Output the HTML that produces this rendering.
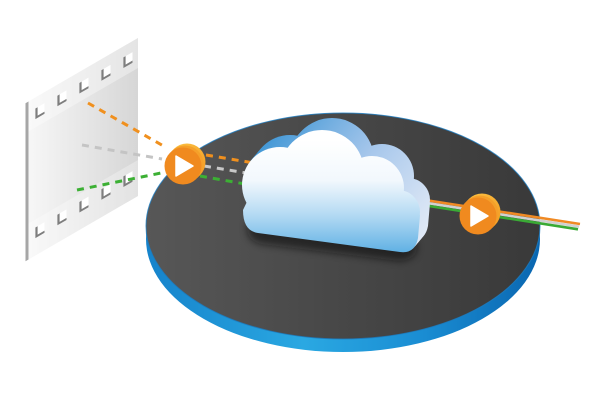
<!DOCTYPE html>
<html><head><meta charset="utf-8"><style>html,body{margin:0;padding:0;background:#fff;}svg{display:block;}</style></head>
<body>
<svg width="612" height="408" viewBox="0 0 612 408" xmlns="http://www.w3.org/2000/svg">
<defs>
  <linearGradient id="panelG" x1="28" y1="0" x2="138" y2="0" gradientUnits="userSpaceOnUse">
    <stop offset="0" stop-color="#f7f7f7"/><stop offset="1" stop-color="#d6d6d6"/>
  </linearGradient>
  <linearGradient id="rimG" x1="146" y1="0" x2="540" y2="0" gradientUnits="userSpaceOnUse">
    <stop offset="0" stop-color="#1683cb"/><stop offset="0.4" stop-color="#2aa8e2"/>
    <stop offset="0.7" stop-color="#1a8dd3"/><stop offset="1" stop-color="#0a66b0"/>
  </linearGradient>
  <linearGradient id="topG" x1="146" y1="0" x2="540" y2="0" gradientUnits="userSpaceOnUse">
    <stop offset="0" stop-color="#575757"/><stop offset="0.5" stop-color="#474747"/><stop offset="1" stop-color="#393939"/>
  </linearGradient>
  <linearGradient id="frontG" x1="0" y1="140" x2="0" y2="255" gradientUnits="userSpaceOnUse">
    <stop offset="0" stop-color="#ffffff"/><stop offset="0.35" stop-color="#f2f8fd"/>
    <stop offset="0.65" stop-color="#b4daf3"/><stop offset="1" stop-color="#5aaee3"/>
  </linearGradient>
  <linearGradient id="extG" x1="270" y1="130" x2="430" y2="230" gradientUnits="userSpaceOnUse">
    <stop offset="0" stop-color="#4398d6"/><stop offset="0.5" stop-color="#a5c6eb"/><stop offset="1" stop-color="#e2eaf6"/>
  </linearGradient>
  <linearGradient id="btnBack" x1="0" y1="0" x2="1" y2="1">
    <stop offset="0" stop-color="#fcc444"/><stop offset="1" stop-color="#f39a22"/>
  </linearGradient>
  <filter id="blur" x="-20%" y="-50%" width="140%" height="200%"><feGaussianBlur stdDeviation="4"/></filter>
  <g id="cs">
    <circle cx="280" cy="185" r="38"/>
    <circle cx="322" cy="172" r="42"/>
    <circle cx="372" cy="188" r="32"/>
    <circle cx="398" cy="212" r="22"/>
    <path d="M243 210 Q243 231 258 233 L400 252 Q415 254 418 238 L420 215 L395 190 L260 175 Z"/>
  </g>
</defs>

<!-- film panel -->
<g transform="matrix(1,-0.58,0,1,0,0)">
  <rect x="28" y="118" width="110" height="158" fill="url(#panelG)"/>
  <rect x="28" y="118" width="110" height="30" fill="#ffffff" opacity="0.35"/>
  <rect x="28" y="240" width="110" height="36" fill="#ffffff" opacity="0.3"/>
  <g fill="#ffffff" stroke="none">
    <rect x="35.5" y="129" width="9" height="10"/><rect x="57.5" y="129" width="9" height="10"/>
    <rect x="79.5" y="129" width="9" height="10"/><rect x="101.5" y="129" width="9" height="10"/>
    <rect x="123.5" y="129" width="9" height="10"/>
    <rect x="35.5" y="248" width="9" height="10"/><rect x="57.5" y="248" width="9" height="10"/>
    <rect x="79.5" y="248" width="9" height="10"/><rect x="101.5" y="248" width="9" height="10"/>
    <rect x="123.5" y="248" width="9" height="10"/>
  </g>
  <g fill="none" stroke="#7e7e7e" stroke-width="2.2">
    <polyline points="36.5,129 36.5,138.5 44.5,138.5"/><polyline points="58.5,129 58.5,138.5 66.5,138.5"/>
    <polyline points="80.5,129 80.5,138.5 88.5,138.5"/><polyline points="102.5,129 102.5,138.5 110.5,138.5"/>
    <polyline points="124.5,129 124.5,138.5 132.5,138.5"/>
    <polyline points="36.5,248 36.5,257.5 44.5,257.5"/><polyline points="58.5,248 58.5,257.5 66.5,257.5"/>
    <polyline points="80.5,248 80.5,257.5 88.5,257.5"/><polyline points="102.5,248 102.5,257.5 110.5,257.5"/>
    <polyline points="124.5,248 124.5,257.5 132.5,257.5"/>
  </g>
  <rect x="25.5" y="118" width="3" height="158" fill="#a6a6a6"/>
</g>

<!-- disk -->
<ellipse cx="343" cy="239" rx="197" ry="113" fill="url(#rimG)"/>
<ellipse cx="343" cy="226" rx="197" ry="113" fill="url(#topG)" stroke="#1c7cc0" stroke-width="1" stroke-opacity="0.8"/>

<!-- dashed lines left of button -->
<g fill="none" stroke-width="3" stroke-dasharray="7 6">
  <line x1="88" y1="103" x2="167" y2="148" stroke="#f0901e"/>
  <line x1="82" y1="145" x2="162" y2="159" stroke="#c4c4c4"/>
  <line x1="77" y1="190" x2="166" y2="172" stroke="#3cb034"/>
  <line x1="206" y1="155" x2="272" y2="166" stroke="#f0901e"/>
  <line x1="204" y1="166" x2="265" y2="176" stroke="#c8c8c8"/>
  <line x1="200" y1="176" x2="262" y2="187" stroke="#3cb034"/>
</g>

<!-- right lines -->
<g fill="none" stroke-width="2.6">
  <line x1="412" y1="198" x2="580" y2="224" stroke="#f08a24"/>
  <line x1="412" y1="200.7" x2="579" y2="226.6" stroke="#d0d0d0"/>
  <line x1="413" y1="203.5" x2="578" y2="229.3" stroke="#3aaa35"/>
</g>

<!-- cloud shadow -->
<path d="M248 222 L415 240 Q422 258 400 261 L262 244 Q244 240 248 222Z" fill="#111" opacity="0.6" filter="url(#blur)"/>

<!-- cloud extrusion -->
<g fill="url(#extG)">
  <use href="#cs" transform="translate(10,-12)"/>
  <use href="#cs" transform="translate(9.2,-11)"/>
  <use href="#cs" transform="translate(8.3,-10)"/>
  <use href="#cs" transform="translate(7.5,-9)"/>
  <use href="#cs" transform="translate(6.7,-8)"/>
  <use href="#cs" transform="translate(5.8,-7)"/>
  <use href="#cs" transform="translate(5,-6)"/>
  <use href="#cs" transform="translate(4.2,-5)"/>
  <use href="#cs" transform="translate(3.3,-4)"/>
  <use href="#cs" transform="translate(2.5,-3)"/>
  <use href="#cs" transform="translate(1.7,-2)"/>
  <use href="#cs" transform="translate(0.8,-1)"/>
</g>
<!-- cloud front -->
<g fill="url(#frontG)"><use href="#cs"/></g>

<!-- play button 1 -->
<circle cx="187" cy="162" r="18.5" fill="url(#btnBack)"/>
<circle cx="185" cy="164" r="18.5" fill="#f5a02a"/>
<circle cx="183" cy="166" r="18.5" fill="#f08a1f"/>
<path d="M176 156 L193 166 L176 176 Z" fill="#ffffff" stroke="#ffffff" stroke-width="1.5" stroke-linejoin="round"/>

<!-- play button 2 -->
<circle cx="482" cy="212" r="18.5" fill="url(#btnBack)"/>
<circle cx="480" cy="214" r="18.5" fill="#f5a02a"/>
<circle cx="478" cy="216" r="18.5" fill="#f08a1f"/>
<path d="M471 206 L488 216 L471 226 Z" fill="#ffffff" stroke="#ffffff" stroke-width="1.5" stroke-linejoin="round"/>
</svg>
</body></html>
